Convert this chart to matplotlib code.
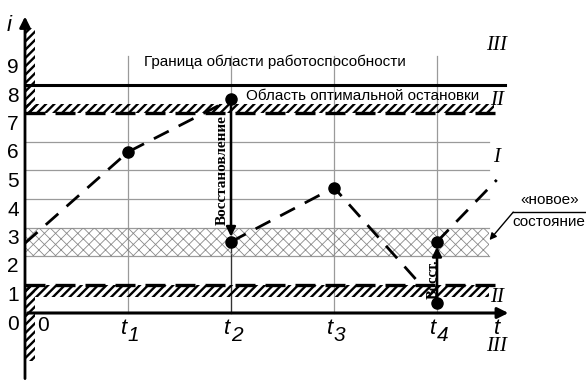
import matplotlib
matplotlib.use("Agg")
import matplotlib.pyplot as plt
from matplotlib import transforms

plt.rcParams["font.family"] = ["Liberation Sans Narrow", "Liberation Sans", "DejaVu Sans"]

# --- данные схемы ---
y_ticks = [0, 1, 2, 3, 4, 5, 6, 7, 8, 9]
t_pos = [1, 2, 3, 4]
t_index = ["1", "2", "3", "4"]
grid_levels = [4, 5, 6]
new_band = (2.0, 3.0)          # «новое» состояние
upper_stop = (7.0, 7.35)       # область оптимальной остановки (сверху)
lower_stop = (0.56, 1.0)       # снизу
bound_level = 8.0              # граница работоспособности
x_end = 4.5
line_end = 4.66

# траектория износа (отрезки между восстановлениями)
seg_x = [[0, 1, 2], [2, 3, 3.85], [4, 4.58]]
seg_y = [[2.45, 5.65, 7.5], [2.5, 4.4, 0.96], [2.5, 4.67]]
dots_x = [1, 2, 2, 3, 4, 4]
dots_y = [5.65, 7.5, 2.5, 4.4, 0.35, 2.5]
restore = [(2, 7.5, 2.5), (4, 0.35, 2.5)]

fig = plt.figure(figsize=(5.86, 3.81), dpi=100)
ax = fig.add_axes([0, 0, 1, 1])
ax.set_xlim(-25 / 103, 561 / 103)
ax.set_ylim(-68 / 28.5, 313 / 28.5)
ax.axis("off")

# сетка
for g in grid_levels + list(new_band):
    ax.plot([0, x_end], [g, g], color="#9a9a9a", lw=0.9, zorder=1)
for t in t_pos:
    ax.plot([t, t], [0, 9], color="#9a9a9a", lw=0.9, zorder=1)
ax.plot([2, 2], [0, 2.5], color="#333333", lw=0.9, zorder=1)

# заштрихованные области
with plt.rc_context({"hatch.linewidth": 0.6}):
    ax.fill_between([0, x_end], new_band[0], new_band[1], facecolor="none",
                    edgecolor="#8a8a8a", hatch="xxx", lw=0, zorder=1)
with plt.rc_context({"hatch.linewidth": 1.7}):
    ax.fill_between([0, 4.55], upper_stop[0], upper_stop[1], facecolor="none",
                    edgecolor="black", hatch="////", lw=0, zorder=2)
    ax.fill_between([0, x_end], lower_stop[0], lower_stop[1], facecolor="none",
                    edgecolor="black", hatch="////", lw=0, zorder=2)
    ax.fill_betweenx([7.0, 10.0], 0, 0.1, facecolor="none",
                     edgecolor="black", hatch="////", lw=0, zorder=2)
    ax.fill_betweenx([-1.7, 1.0], 0, 0.1, facecolor="none",
                     edgecolor="black", hatch="////", lw=0, zorder=2)

# границы
ax.plot([0, line_end], [bound_level, bound_level], color="black", lw=2.2, zorder=3)
ax.plot([0, line_end], [upper_stop[0]] * 2, color="black", lw=2.4,
        dashes=(6, 3), zorder=3)
ax.plot([0, line_end], [lower_stop[1]] * 2, color="black", lw=2.4,
        dashes=(6, 3), zorder=3)

# оси
ax.annotate("", xy=(0, 10.5), xytext=(0, -2.4),
            arrowprops=dict(arrowstyle="-|>", color="black", lw=2,
                            mutation_scale=16), zorder=5)
ax.annotate("", xy=(4.72, 0), xytext=(0, 0),
            arrowprops=dict(arrowstyle="-|>", color="black", lw=2.2,
                            mutation_scale=16), zorder=5)

# траектория
for xs, ys in zip(seg_x, seg_y):
    ax.plot(xs, ys, color="black", lw=2, dashes=(6, 4), zorder=4)
ax.plot(dots_x, dots_y, "o", color="black", ms=8, zorder=6)
for x, y0, y1 in restore:
    ax.annotate("", xy=(x, y1 + (0.18 if y1 < y0 else -0.18)), xytext=(x, y0),
                arrowprops=dict(arrowstyle="-|>", color="black", lw=1.8,
                                mutation_scale=14, shrinkA=0, shrinkB=0), zorder=5)

ax.text(1.915, 5.0, "Восстановление", rotation=90, ha="center", va="center",
        family="Liberation Serif", fontsize=11, fontweight="bold", zorder=7)
ax.text(3.96, 1.2, "Восст.", rotation=90, ha="center", va="center",
        family="Liberation Serif", fontsize=10.5, fontweight="bold", zorder=7)

# подписи осей
off = transforms.offset_copy(ax.transData, fig=fig, y=-11, units="dots")
for v in y_ticks:
    ax.text(-0.115, v, str(v), ha="center", va="center", fontsize=15,
            family="Liberation Sans", transform=off)
for t, k in zip(t_pos, t_index):
    ax.text(t - 0.04, -0.55, "t", ha="center", va="center", fontsize=16,
            family="Liberation Sans", style="italic")
    ax.text(t + 0.055, -0.8, k, ha="center", va="center", fontsize=15,
            family="Liberation Sans", style="italic")
ax.text(0.175, -0.45, "0", ha="center", va="center", fontsize=15,
        family="Liberation Sans")
ax.text(-0.155, 10.1, "i", ha="center", va="center", fontsize=16,
        family="Liberation Sans", style="italic")
ax.text(4.58, -0.53, "t", ha="center", va="center", fontsize=16,
        family="Liberation Sans", style="italic")

roman = [(9.4, "III"), (7.47, "II"), (5.44, "I"), (0.56, "II"), (-1.19, "III")]
for y, r in roman:
    ax.text(4.58, y, r, ha="center", va="center", fontsize=15,
            family="Liberation Serif", style="italic")

ax.text(2.43, 8.8, "Граница области работоспособности", ha="center",
        va="center", fontsize=11)
ax.text(3.28, 7.6, "Область оптимальной остановки", ha="center",
        va="center", fontsize=11, zorder=4)

ax.text(5.09, 3.96, "«новое»", ha="center", va="center", fontsize=11)
ax.text(5.09, 3.19, "состояние", ha="center", va="center", fontsize=11)
ax.plot([4.74, 5.45], [3.54, 3.54], color="black", lw=1)
ax.annotate("", xy=(4.51, 2.56), xytext=(4.74, 3.54),
            arrowprops=dict(arrowstyle="-|>", color="black", lw=1,
                            mutation_scale=10, shrinkA=0, shrinkB=0))

fig.savefig("out.png", dpi=100)
